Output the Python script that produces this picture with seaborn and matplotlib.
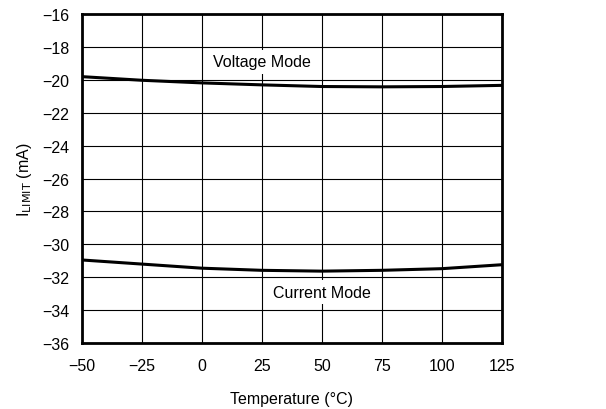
import matplotlib
matplotlib.use("Agg")
import matplotlib.pyplot as plt
import seaborn as sns
import pandas as pd

temps = [-50, -25, 0, 25, 50, 75, 100, 125]
voltage_mode = [-19.80, -20.02, -20.18, -20.30, -20.40, -20.42, -20.40, -20.33]
current_mode = [-30.95, -31.20, -31.45, -31.58, -31.63, -31.58, -31.48, -31.24]
x_ticks = [-50, -25, 0, 25, 50, 75, 100, 125]
y_ticks = [-36, -34, -32, -30, -28, -26, -24, -22, -20, -18, -16]

sns.set_theme(style="white")
plt.rcParams['font.family'] = ['Liberation Sans', 'DejaVu Sans']
plt.rcParams['axes.unicode_minus'] = True
plt.rcParams['text.color'] = 'black'
plt.rcParams['axes.labelcolor'] = 'black'
plt.rcParams['xtick.color'] = 'black'
plt.rcParams['ytick.color'] = 'black'

df = pd.DataFrame({
    "T": temps * 2,
    "I": voltage_mode + current_mode,
    "mode": ["Voltage Mode"] * len(temps) + ["Current Mode"] * len(temps),
})

fs = 11.5
fig = plt.figure(figsize=(6.06, 4.10), dpi=100)
ax = fig.add_axes([0.135, 0.161, 0.693, 0.802])
sns.lineplot(data=df, x="T", y="I", units="mode", estimator=None,
             color="black", linewidth=2.2, ax=ax, legend=False)

ax.set_xlim(-50, 125)
ax.set_ylim(-36, -16)
ax.set_xticks(x_ticks)
ax.set_yticks(y_ticks)
ax.set_xticklabels([str(t).replace('-', '\u2212') for t in x_ticks])
ax.set_yticklabels([str(t).replace('-', '\u2212') for t in y_ticks])
ax.grid(True, color="black", linewidth=0.8)
for s in ax.spines.values():
    s.set_color("black")
    s.set_linewidth(2)
ax.tick_params(axis="x", labelsize=fs, colors="black", length=0, pad=11)
ax.tick_params(axis="y", labelsize=fs, colors="black", length=0, pad=9)

ax.text(25, -18.9, "Voltage Mode", ha="center", va="center", fontsize=fs,
        color="black", bbox=dict(facecolor="white", edgecolor="none", pad=3))
ax.text(50, -32.9, "Current Mode", ha="center", va="center", fontsize=fs,
        color="black", bbox=dict(facecolor="white", edgecolor="none", pad=3))

ax.set_xlabel("Temperature (\u00b0C)", fontsize=fs, labelpad=13, color="black")
ax.set_ylabel(r"I$_{\mathrm{LIMIT}}$ (mA)", fontsize=fs, labelpad=6, color="black")

fig.savefig("out.png", dpi=100)
